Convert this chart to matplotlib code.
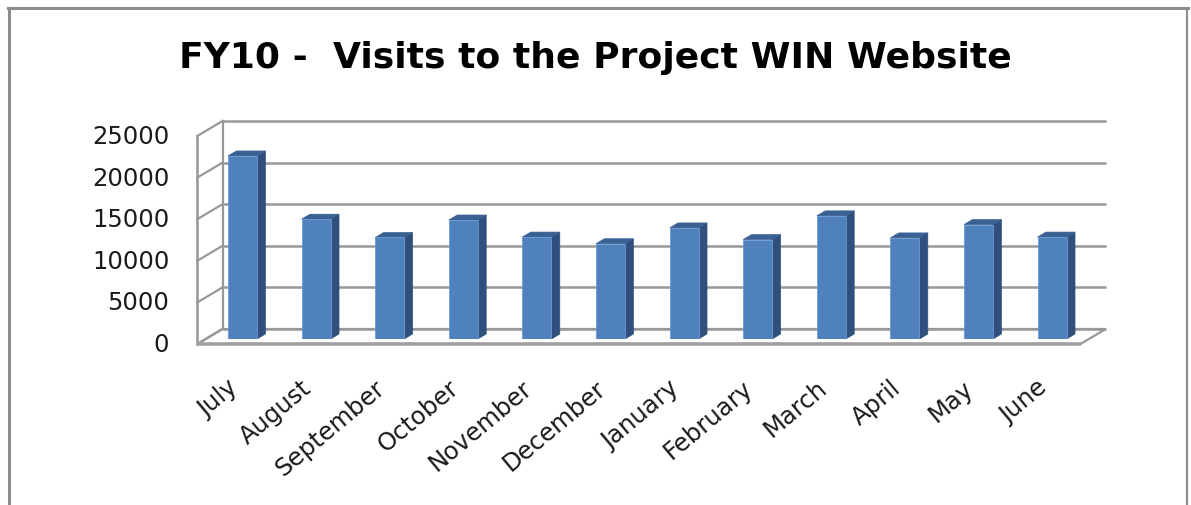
import matplotlib
matplotlib.use("Agg")
import matplotlib.pyplot as plt
from matplotlib.patches import Polygon
from matplotlib.lines import Line2D
import matplotlib.transforms as mtransforms

# ---------------- data ----------------
months = ["July", "August", "September", "October", "November", "December",
          "January", "February", "March", "April", "May", "June"]
visits = [22000, 14400, 12200, 14300, 12250, 11450,
          13350, 11950, 14800, 12150, 13750, 12250]
y_ticks = [0, 5000, 10000, 15000, 20000, 25000]
y_tick_labels = ["0", "5000", "10000", "15000", "20000", "25000"]
title = "FY10 -  Visits to the Project WIN Website"

# ---------------- style ----------------
W, H = 1191, 506
FONT = ["DejaVu Sans"]
FRONT = "#4F81BD"
SIDE = "#2F507D"
TOP = "#3A6194"
GRID = "#989898"

fig = plt.figure(figsize=(W / 100, H / 100), dpi=100)
fig.patch.set_facecolor("white")

# axes = plane of the bars' front faces
ax_l, ax_w = 205.7, 883.2
ax_b, ax_h = 340.0, 208.0
ax = fig.add_axes([ax_l / W, (H - ax_b) / H, ax_w / W, ax_h / H])
ax.set_xlim(-0.5, len(months) - 0.5)
ax.set_ylim(0, y_ticks[-1])
for s in ax.spines.values():
    s.set_visible(False)
ax.patch.set_visible(False)

# depth unit (one bar depth) in data units
px_x = ax_w / len(months)            # pixels per category
px_y = ax_h / y_ticks[-1]            # pixels per value unit
DX = 8.4 / px_x
DY = 5.0 / px_y

x0, x1 = -0.5, len(months) - 0.5
ymax = y_ticks[-1]

# floor (front at depth -1, back wall at depth +2)
floor = Polygon([(x0 - DX, -DY), (x1 - DX, -DY), (x1 + 2 * DX, 2 * DY), (x0 + 2 * DX, 2 * DY)],
                closed=True, facecolor="white", edgecolor=GRID, lw=1.6, clip_on=False, zorder=1)
ax.add_patch(floor)
ax.plot([x0 - DX, x1 - DX], [-DY, -DY], color="#A0A0A0", lw=2.6, clip_on=False, zorder=1.5,
        solid_capstyle="butt")

# walls: gridlines on back wall and left wall
for v in y_ticks:
    ax.plot([x0 + 2 * DX, x1 + 2 * DX], [v + 2 * DY, v + 2 * DY], color=GRID, lw=1.8,
            clip_on=False, zorder=1.2, solid_capstyle="butt")
    ax.plot([x0 - DX, x0 + 2 * DX], [v - DY, v + 2 * DY], color=GRID, lw=1.6,
            clip_on=False, zorder=1.2)
ax.plot([x0 - DX, x0 - DX], [-DY, ymax - DY], color=GRID, lw=1.8, clip_on=False, zorder=1.2)
ax.plot([x0 + 2 * DX, x0 + 2 * DX], [2 * DY, ymax + 2 * DY], color=GRID, lw=1.6,
        clip_on=False, zorder=1.2)

# bars
xs = list(range(len(months)))
bw = 29.0 / px_x
ax.bar(xs, visits, width=bw, color=FRONT, edgecolor="#6E9AD0", lw=0.6, zorder=3)
for x, v in zip(xs, visits):
    r = x + bw / 2
    l = x - bw / 2
    side = Polygon([(r, 0), (r + DX, DY), (r + DX, v + DY), (r, v)], closed=True,
                   facecolor=SIDE, edgecolor=SIDE, lw=0.5, clip_on=False, zorder=2.9)
    top = Polygon([(l, v), (r, v), (r + DX, v + DY), (l + DX, v + DY)], closed=True,
                  facecolor=TOP, edgecolor=TOP, lw=0.5, clip_on=False, zorder=2.9)
    ax.add_patch(side)
    ax.add_patch(top)

# y tick labels at the front-left edge
ax.set_yticks([])
off = mtransforms.ScaledTranslation(-28 / 100, 0, fig.dpi_scale_trans)
for v, lab in zip(y_ticks, y_tick_labels):
    ax.text(x0 - DX, v - DY, lab, transform=ax.transData + off, ha="right", va="center",
            fontsize=17.5, family=FONT, color="#1A1A1A")

# x tick labels
ax.set_xticks(xs)
ax.set_xticklabels(months, rotation=40, ha="right", fontsize=17.5, family=FONT, color="#1A1A1A")
ax.tick_params(axis="x", length=0, pad=26)

# title
fig.text(0.5, 1 - 68 / H, title, ha="center", va="baseline", fontsize=26,
         fontweight="bold", family=FONT, color="black")

# chart border
bc = "#8C8C8C"
fig.add_artist(Line2D([8.5 / W, 8.5 / W], [0, 1 - 9 / H], color=bc, lw=2.2))
fig.add_artist(Line2D([7.5 / W, 1187.5 / W], [1 - 9 / H, 1 - 9 / H], color=bc, lw=2.2))
fig.add_artist(Line2D([1186.5 / W, 1186.5 / W], [0, 1 - 9 / H], color=bc, lw=1.5))

fig.savefig("out.png", dpi=100, facecolor="white")
